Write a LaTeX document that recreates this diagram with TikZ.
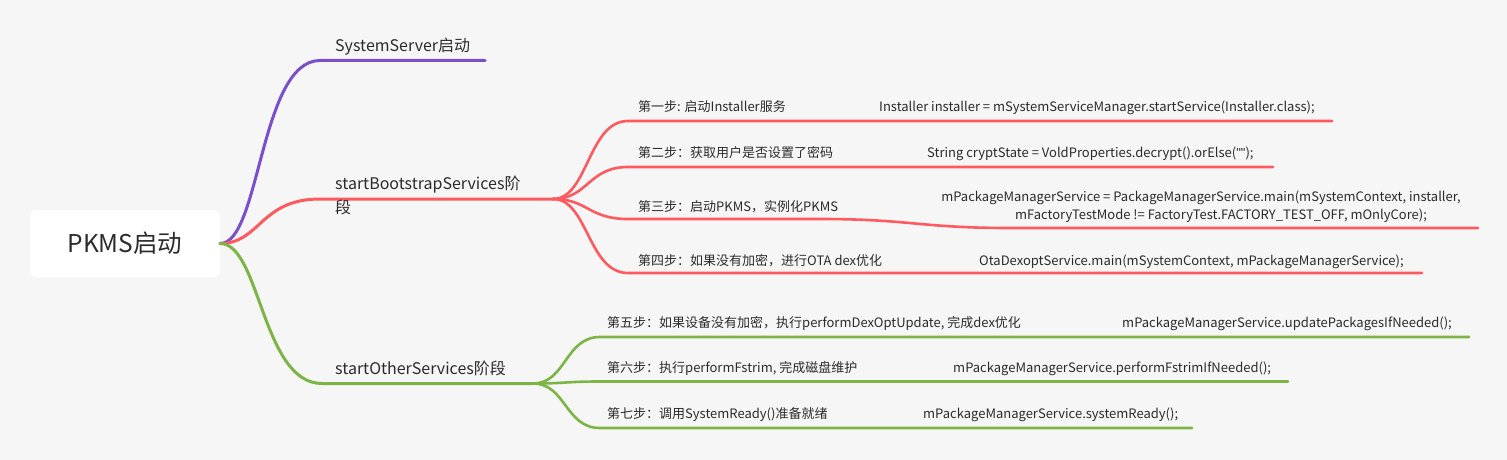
\documentclass[tikz,border=0pt]{standalone}
\usepackage{fontspec}
\setmainfont{Noto Sans CJK SC}
\newfontfamily\quotefont{Liberation Sans}
\definecolor{cpurple}{HTML}{7A4FC9}
\definecolor{cred}{HTML}{FF5A5F}
\definecolor{cgreen}{HTML}{7CB446}
\definecolor{bg}{HTML}{F6F6F6}
\definecolor{txt}{HTML}{2B2B2B}
\begin{document}
\begin{tikzpicture}[x=1pt,y=-1pt,
  branch/.style={line width=3pt, line cap=round},
  sub/.style={line width=2.6pt, line cap=round},
  lbl/.style={inner sep=0pt, anchor=base west, text=txt},
  big/.style={font=\fontsize{16}{24}\selectfont},
  small/.style={font=\fontsize{13}{18}\selectfont}]
\fill[bg] (0,0) rectangle (1507,460);
\useasboundingbox (0,0) rectangle (1507,460);
\node[fill=white, rounded corners=6pt, minimum width=190pt, minimum height=67pt, inner sep=0pt, text=txt, font=\fontsize{24.5}{28}\selectfont] (root) at (125,243.5) {PKMS启动};
% coordinates
\coordinate (ssA) at (320,60.5); \coordinate (ssB) at (485,60.5);
\coordinate (bsA) at (320,199); \coordinate (bsB) at (553,199);
\coordinate (osA) at (322,383.5); \coordinate (osB) at (533,383.5);
\coordinate (s1A) at (628,121); \coordinate (s1B) at (1332,121);
\coordinate (s2A) at (628,167); \coordinate (s2B) at (1273,167);
\coordinate (s3A) at (628,219); \coordinate (s3M) at (820,219); \coordinate (s3N) at (1010,228); \coordinate (s3B) at (1478,228);
\coordinate (s4A) at (628,273); \coordinate (s4B) at (1422,273);
\coordinate (s5A) at (600,337); \coordinate (s5B) at (1469,337);
\coordinate (s6A) at (600,381.5); \coordinate (s6B) at (1288,381.5);
\coordinate (s7A) at (600,428); \coordinate (s7B) at (1192,428);
% main branches
\draw[branch,cpurple] (root.east) .. controls +(40,0) and +(-60,0) .. (ssA) -- (ssB);
\draw[branch,cred] (root.east) .. controls +(40,0) and +(-60,0) .. (bsA) -- (bsB);
\draw[branch,cgreen] (root.east) .. controls +(40,0) and +(-60,0) .. (osA) -- (osB);
% red sub branches
\draw[sub,cred] (bsB) .. controls +(35,0) and +(-40,0) .. (s1A) -- (s1B);
\draw[sub,cred] (bsB) .. controls +(35,0) and +(-40,0) .. (s2A) -- (s2B);
\draw[sub,cred] (bsB) .. controls +(35,0) and +(-40,0) .. (s3A) -- (s3M) .. controls +(90,0) and +(-90,0) .. (s3N) -- (s3B);
\draw[sub,cred] (bsB) .. controls +(35,0) and +(-40,0) .. (s4A) -- (s4B);
% green sub branches
\draw[sub,cgreen] (osB) .. controls +(33,0) and +(-35,0) .. (s5A) -- (s5B);
\draw[sub,cgreen] (osB) .. controls +(33,0) and +(-35,0) .. (s6A) -- (s6B);
\draw[sub,cgreen] (osB) .. controls +(33,0) and +(-35,0) .. (s7A) -- (s7B);
% branch labels
\node[lbl,big] (ssT) at (335,52) {SystemServer启动};
\node[lbl,big] (bsT) at (335,189) {startBootstrapServices阶};
\node[lbl,big] (bsT2) at (335,213) {段};
\node[lbl,big] (osT) at (335,374) {startOtherServices阶段};
% step labels
\node[lbl,small] (t1) at (638,111) {第一步: 启动Installer服务};
\node[lbl,small] (c1) at (879,111) {Installer installer = mSystemServiceManager.startService(Installer.class);};
\node[lbl,small] (t2) at (638,157) {第二步：获取用户是否设置了密码};
\node[lbl,small] (c2) at (927,157) {String cryptState = VoldProperties.decrypt().orElse({\quotefont ""});};
\node[lbl,small] (t3) at (638,211) {第三步：启动PKMS，实例化PKMS};
\node[lbl,small,anchor=base] (c3a) at (1201,201) {mPackageManagerService = PackageManagerService.main(mSystemContext, installer,};
\node[lbl,small,anchor=base] (c3b) at (1221,219) {mFactoryTestMode != FactoryTest.FACTORY\_TEST\_OFF, mOnlyCore);};
\node[lbl,small] (t4) at (638,265) {第四步：如果没有加密，进行OTA dex优化};
\node[lbl,small] (c4) at (979,265) {OtaDexoptService.main(mSystemContext, mPackageManagerService);};
\node[lbl,small] (t5) at (607,327) {第五步：如果设备没有加密，执行performDexOptUpdate, 完成dex优化};
\node[lbl,small] (c5) at (1122,327) {mPackageManagerService.updatePackagesIfNeeded();};
\node[lbl,small] (t6) at (607,372) {第六步：执行performFstrim, 完成磁盘维护};
\node[lbl,small] (c6) at (953,372) {mPackageManagerService.performFstrimIfNeeded();};
\node[lbl,small] (t7) at (607,418) {第七步：调用SystemReady()准备就绪};
\node[lbl,small] (c7) at (923,418) {mPackageManagerService.systemReady();};
\end{tikzpicture}
\end{document}
